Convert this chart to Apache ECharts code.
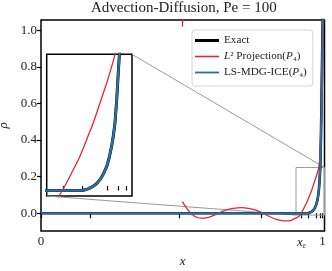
<!DOCTYPE html>
<html><head><meta charset="utf-8">
<script src="https://cdn.jsdelivr.net/npm/echarts@6/dist/echarts.min.js"></script>
<style>html,body{margin:0;padding:0;background:#fff}#c{width:332px;height:271px}</style>
</head><body><div id="c"></div>
<script>
// ---- data (x in the chart's display coordinate, "1" = right end tick) ----
const xMax = 1.0071;
const yRange = [-0.097, 1.056];
const xTickValues = [0, 0.1741, 0.4920, 0.7815, 0.9254, 0.9485, 0.9780, 0.9904, 1.0];
const xLabelValues = [0, 0.9254, 1.0];
const xLabelTexts = ['0', '{i|x}{s|ε}', '1'];
const yTickValues = [0, 0.2, 0.4, 0.6, 0.8, 1.0];
const insetXRange = [0.9059, 1.0071];
const insetYRange = [-0.01, 0.25];

const exactValues = [[0,0],[0.5,0],[0.93,0],[0.9485,0],[0.955,0.003],[0.9613,0.008],[0.9653,0.013],[0.9691,0.020],[0.9733,0.031],[0.9773,0.045],[0.9803,0.062],[0.9829,0.081],[0.9851,0.102],[0.9869,0.124],[0.9890,0.167],[0.9908,0.216],[0.9922,0.251],[0.9945,0.42],[0.9964,0.6],[0.9982,0.8],[1.0,1.0],[1.0071,1.5]];
const mdgValues = [[0,0],[0.5,0],[0.93,0],[0.9485,0],[0.955,0.003],[0.9613,0.008],[0.9653,0.013],[0.9691,0.020],[0.9733,0.031],[0.9773,0.045],[0.9803,0.062],[0.9829,0.081],[0.9851,0.102],[0.9869,0.124],[0.9890,0.167],[0.9908,0.216],[0.9922,0.251],[0.9945,0.42],[0.9964,0.6],[0.9982,0.8],[1.0,1.0],[1.0071,1.5]];
const l2TopValues = [[0.5026,1.02],[0.5030,1.10]];
const l2Values = [[0.5020,0.063],[0.5176,0.027],[0.5353,-0.004],[0.5531,-0.022],[0.5709,-0.027],[0.5943,-0.022],[0.6181,-0.009],[0.6359,0.005],[0.6597,0.018],[0.6831,0.027],[0.7130,0.031],[0.7364,0.027],[0.7602,0.018],[0.7840,0.003],[0.8075,-0.015],[0.8313,-0.031],[0.8551,-0.040],[0.8728,-0.042],[0.8906,-0.037],[0.9083,-0.024],[0.9160,-0.016],[0.9208,-0.009],[0.9276,0.0087],[0.9356,0.0327],[0.9454,0.0631],[0.9534,0.0938],[0.9612,0.1244],[0.9692,0.161],[0.9772,0.1977],[0.9831,0.2282],[0.9870,0.251],[0.9925,0.346],[0.9985,0.6],[1.002,0.9],[1.0071,1.4]];

const serif = 'Liberation Serif';
const RED = '#e0282e', BLUE = '#2b6fa6';
const chart = echarts.init(document.getElementById('c'), null, {renderer:'canvas'});
const labelFmt = v => { const i = xLabelValues.indexOf(v); return i >= 0 ? xLabelTexts[i] : ''; };
const legendNames = {Exact:'Exact', L2:'{i|L}² Projection({i|P}₄)', LS:'LS-MDG-ICE({i|P}₄)'};
function line(name, data, color, width, ax, z, smooth){
  return {type:'line', name, data, xAxisIndex:ax, yAxisIndex:ax, showSymbol:false, symbol:'none',
    smooth:smooth,
    clip:true, z, color, itemStyle:{color}, lineStyle:{color, width}, emphasis:{disabled:true}};
}
const insetTicks = xTickValues.filter(v => v >= insetXRange[0] && v <= insetXRange[1]);
chart.setOption({
  animation:false,
  backgroundColor:'#fff',
  title:{text:'Advection-Diffusion, Pe = 100', left:91, top:1, padding:0,
    textStyle:{fontFamily:serif, fontSize:15, fontWeight:'normal', color:'#222'}},
  grid:[
    {left:41, top:20, right:7.5, bottom:40, show:true, borderColor:'#000', borderWidth:1.5, backgroundColor:'transparent', containLabel:false, outerBoundsMode:'none'},
    {left:46.7, top:54.3, width:85.3, height:141.7, show:true, borderColor:'#000', borderWidth:1.5, backgroundColor:'#fff', containLabel:false, outerBoundsMode:'none'}
  ],
  xAxis:[
    {type:'value', gridIndex:0, min:0, max:xMax, axisLine:{show:false}, splitLine:{show:false},
     axisTick:{show:true, length:5, inside:false, customValues:xTickValues, lineStyle:{color:'#000', width:1.2}},
     axisLabel:{show:true, customValues:xLabelValues, formatter:labelFmt, margin:4, fontFamily:serif, fontSize:13, color:'#222',
       rich:{i:{fontStyle:'italic', fontFamily:serif, fontSize:13, color:'#222'}, s:{fontStyle:'italic', fontFamily:serif, fontSize:8, color:'#222', padding:[7,0,0,0]}}},
     name:'x', nameLocation:'middle', nameGap:18, nameTextStyle:{fontFamily:serif, fontStyle:'italic', fontSize:13, color:'#222'}},
    {type:'value', gridIndex:1, min:insetXRange[0], max:insetXRange[1], axisLine:{show:false}, splitLine:{show:false},
     axisTick:{show:true, length:4.5, inside:true, customValues:insetTicks, lineStyle:{color:'#000', width:1.2}},
     axisLabel:{show:false}}
  ],
  yAxis:[
    {type:'value', gridIndex:0, min:yRange[0], max:yRange[1], axisLine:{show:false}, splitLine:{show:false},
     axisTick:{show:true, length:4, inside:false, customValues:yTickValues, lineStyle:{color:'#000', width:1.2}},
     axisLabel:{show:true, customValues:yTickValues, formatter:v => v.toFixed(1), margin:4, fontFamily:serif, fontSize:13, color:'#222'},
     name:'ρ', nameLocation:'middle', nameGap:28, nameRotate:90, nameTextStyle:{fontFamily:serif, fontStyle:'italic', fontSize:13, color:'#222'}},
    {type:'value', gridIndex:1, min:insetYRange[0], max:insetYRange[1], axisLine:{show:false}, splitLine:{show:false},
     axisTick:{show:false}, axisLabel:{show:false}}
  ],
  legend:{show:true, orient:'vertical', left:192, top:30, itemWidth:24, itemHeight:10, itemGap:5,
    padding:[5,6,8,3], borderColor:'#d4d4d4', borderWidth:1, borderRadius:3, backgroundColor:'rgba(255,255,255,0.85)',
    selectedMode:false,
    data:[{name:'Exact', icon:'path://M0,0h24v3h-24z'}, {name:'L2', icon:'path://M0,0h24v1.6h-24z'}, {name:'LS', icon:'path://M0,0h24v1.8h-24z'}],
    formatter:n => legendNames[n],
    textStyle:{fontFamily:serif, fontSize:11.2, color:'#222', rich:{i:{fontFamily:serif, fontStyle:'italic', fontSize:11.2, color:'#222'}}}},
  series:[
    line('Exact', exactValues, '#000', 2.6, 0, 2, false),
    line('L2', l2TopValues, RED, 1.3, 0, 3, false),
    line('L2', l2Values, RED, 1.3, 0, 3, 0.2),
    line('LS', mdgValues, BLUE, 2, 0, 4, false),
    line('Exact', exactValues, '#000', 3, 1, 2, false),
    line('L2', l2Values, RED, 1.3, 1, 3, 0.2),
    line('LS', mdgValues, BLUE, 2.4, 1, 4, false)
  ]
});
const px = (ax, pt) => chart.convertToPixel({xAxisIndex:ax, yAxisIndex:ax}, pt);
const r0 = px(0, [insetXRange[0], insetYRange[0]]), r1 = px(0, [insetXRange[1], insetYRange[1]]);
const i0 = px(1, [insetXRange[0], insetYRange[0]]), i1 = px(1, [insetXRange[1], insetYRange[1]]);
const gs = {stroke:'#9a9a9a', lineWidth:1, fill:null};
chart.setOption({graphic:[
  {type:'rect', z:1, silent:true, shape:{x:r0[0], y:r1[1], width:r1[0]-r0[0], height:r0[1]-r1[1]}, style:gs},
  {type:'line', z:1, silent:true, shape:{x1:i1[0], y1:i1[1], x2:r1[0], y2:r1[1]}, style:gs},
  {type:'line', z:1, silent:true, shape:{x1:i0[0], y1:i0[1], x2:r0[0], y2:r0[1]}, style:gs}
]});
</script></body></html>
